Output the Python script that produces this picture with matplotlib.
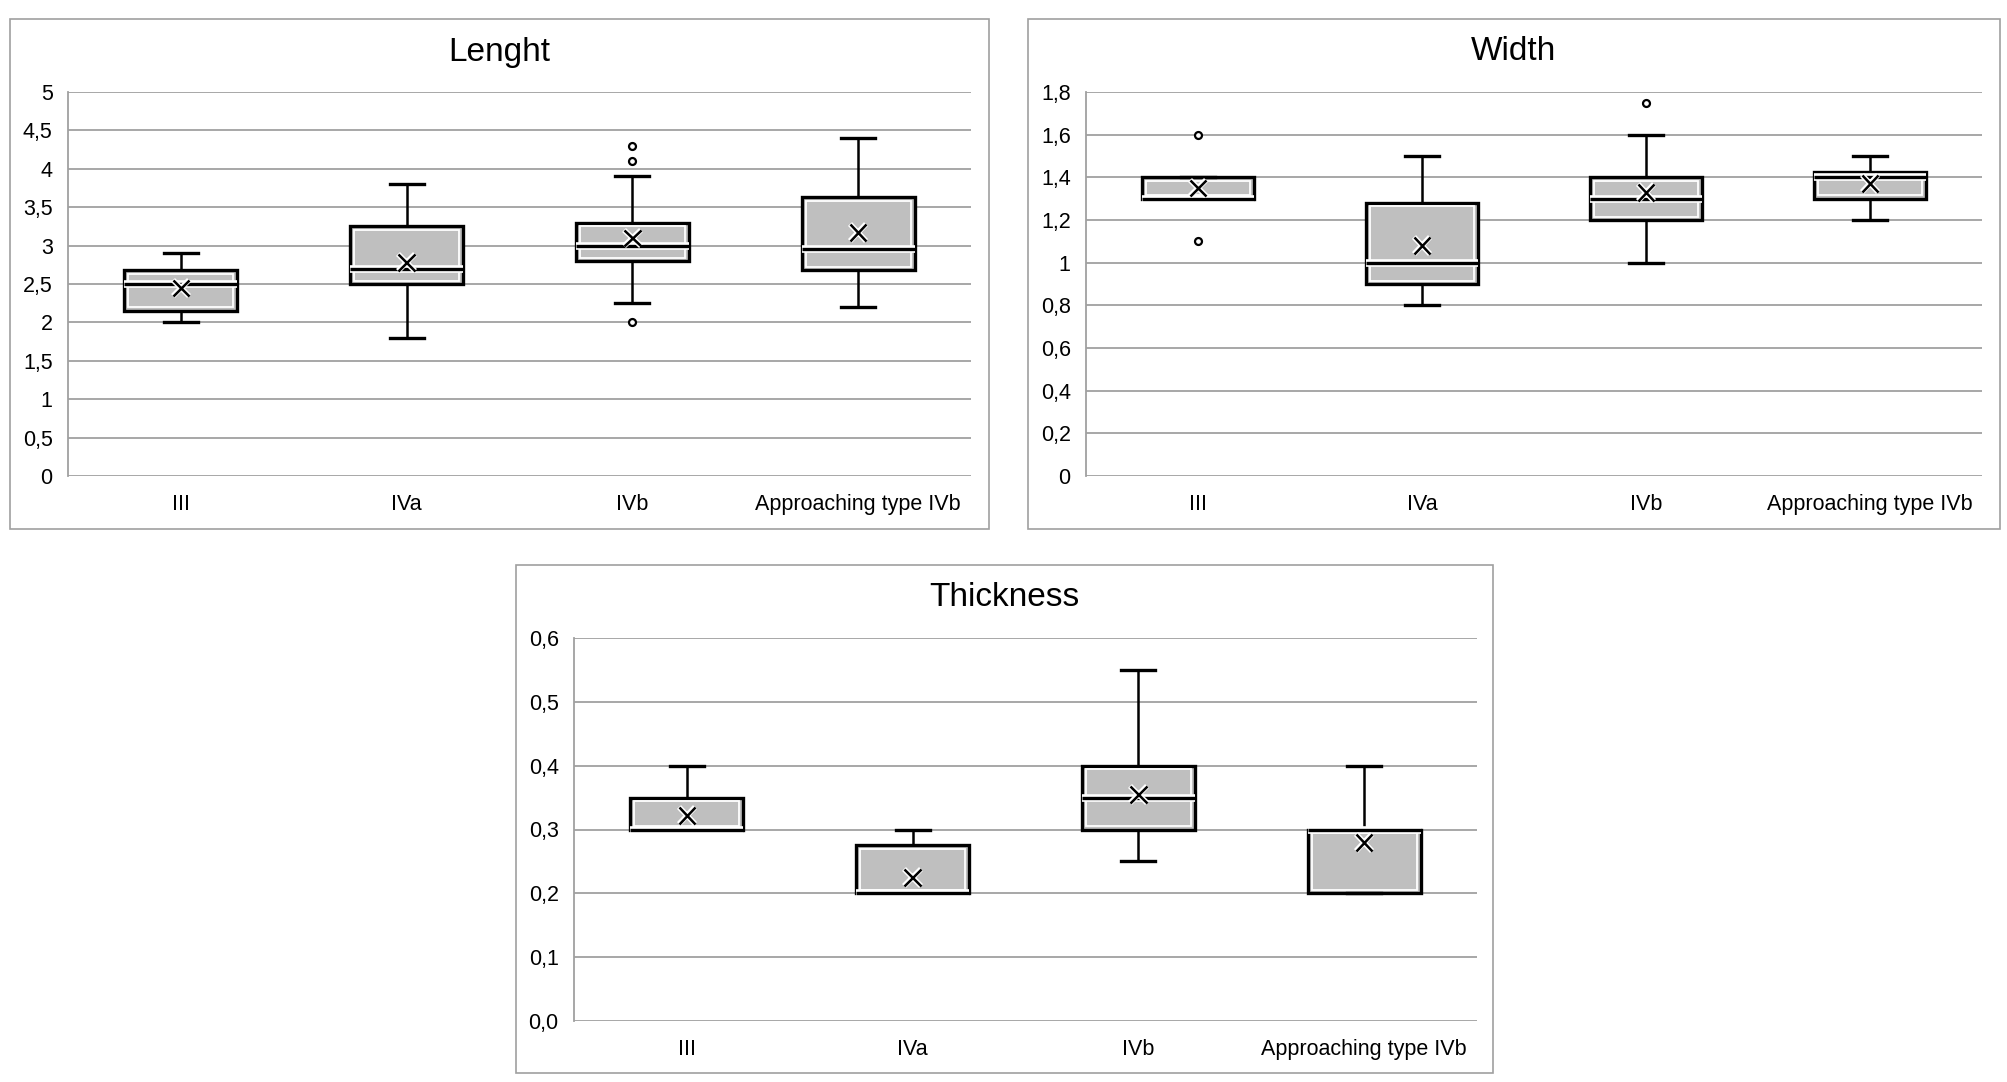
import matplotlib
matplotlib.use("Agg")
import matplotlib.pyplot as plt
import matplotlib.patches as patches
import matplotlib.patheffects as pe
from matplotlib.ticker import FuncFormatter, MultipleLocator

plt.rcParams['font.family'] = ['Liberation Sans', 'DejaVu Sans']

categories = ['III', 'IVa', 'IVb', 'Approaching type IVb']

# Lenght (whisker low, Q1, median, Q3, whisker high, mean, outliers)
len_low = [2.0, 1.8, 2.25, 2.2]
len_q1 = [2.15, 2.5, 2.8, 2.68]
len_med = [2.5, 2.7, 3.0, 2.95]
len_q3 = [2.68, 3.25, 3.3, 3.63]
len_high = [2.9, 3.8, 3.9, 4.4]
len_mean = [2.45, 2.78, 3.1, 3.17]
len_out = [[], [], [2.0, 4.1, 4.3], []]

# Width
wid_low = [1.3, 0.8, 1.0, 1.2]
wid_q1 = [1.3, 0.9, 1.2, 1.3]
wid_med = [1.3, 1.0, 1.3, 1.4]
wid_q3 = [1.4, 1.28, 1.4, 1.425]
wid_high = [1.4, 1.5, 1.6, 1.5]
wid_mean = [1.35, 1.08, 1.33, 1.37]
wid_out = [[1.1, 1.6], [], [1.75], []]

# Thickness
thk_low = [0.3, 0.2, 0.25, 0.2]
thk_q1 = [0.3, 0.2, 0.3, 0.2]
thk_med = [0.3, 0.2, 0.35, 0.3]
thk_q3 = [0.35, 0.275, 0.4, 0.3]
thk_high = [0.4, 0.3, 0.55, 0.4]
thk_mean = [0.322, 0.225, 0.355, 0.28]
thk_out = [[], [], [], []]

W, H = 2008, 1082
fig = plt.figure(figsize=(W / 100, H / 100), dpi=100)

GRID = '#a0a0a0'
BOXGRAY = '#bfbfbf'


def px_axes(x0, y0, x1, y1):
    return fig.add_axes([x0 / W, 1 - y1 / H, (x1 - x0) / W, (y1 - y0) / H])


def panel_border(x0, y0, x1, y1):
    fig.patches.append(patches.Rectangle((x0 / W, 1 - y1 / H), (x1 - x0) / W, (y1 - y0) / H,
                                         transform=fig.transFigure, fill=False,
                                         edgecolor=GRID, linewidth=1.2))


def draw_panel(ax, title, title_xy, lo, q1, med, q3, hi, mean, outs, ymax, step, fmt):
    stats = []
    inner = []
    d = ymax * 0.009
    for i in range(len(categories)):
        stats.append(dict(whislo=lo[i], q1=q1[i], med=med[i], q3=q3[i], whishi=hi[i],
                          mean=mean[i], fliers=outs[i]))
        inner.append(dict(whislo=q1[i] + d, q1=q1[i] + d, med=q1[i] + d, q3=q3[i] - d,
                          whishi=q3[i] - d, fliers=[]))
    pos = range(1, len(categories) + 1)
    ax.bxp(stats, positions=pos, widths=0.5, capwidths=0.15, patch_artist=True,
           showmeans=True,
           boxprops=dict(facecolor=BOXGRAY, edgecolor='black', linewidth=2.4),
           whiskerprops=dict(color='black', linewidth=1.8),
           capprops=dict(color='black', linewidth=2.4),
           medianprops=dict(color='black', linewidth=2.4,
                            path_effects=[pe.withStroke(linewidth=5.5, foreground='white')]),
           meanprops=dict(marker='x', markersize=12, markeredgecolor='black',
                          markeredgewidth=1.8,
                          path_effects=[pe.withStroke(linewidth=4, foreground='white')]),
           flierprops=dict(marker='o', markersize=5, markerfacecolor='white',
                           markeredgecolor='black', markeredgewidth=1.6))
    # white inner outline of the boxes
    ax.bxp(inner, positions=pos, widths=0.465, patch_artist=True, showcaps=False,
           boxprops=dict(facecolor='none', edgecolor='white', linewidth=1.3),
           whiskerprops=dict(linewidth=0), medianprops=dict(linewidth=0),
           showfliers=False)

    ax.set_xlim(0.5, len(categories) + 0.5)
    ax.set_ylim(0, ymax)
    ax.yaxis.set_major_locator(MultipleLocator(step))
    ax.yaxis.set_major_formatter(FuncFormatter(fmt))
    ax.set_xticks(list(pos))
    ax.set_xticklabels(categories)
    ax.tick_params(axis='both', length=0, labelsize=15.5, colors='black')
    ax.tick_params(axis='y', pad=11)
    ax.tick_params(axis='x', pad=13)
    ax.grid(axis='y', color=GRID, linewidth=1.3)
    ax.set_axisbelow(True)
    for s in ['top', 'right', 'bottom']:
        ax.spines[s].set_visible(False)
    ax.spines['left'].set_color(GRID)
    ax.spines['left'].set_linewidth(1.3)
    fig.text(title_xy[0] / W, 1 - title_xy[1] / H, title, ha='center', va='center',
             fontsize=24)


def fmt_plain(v, p):
    s = ('%.1f' % v).rstrip('0').rstrip('.')
    return s.replace('.', ',')


def fmt_one(v, p):
    return ('%.1f' % v).replace('.', ',')


panel_border(10, 19, 989, 529)
panel_border(1028, 19, 2000, 529)
panel_border(516, 565, 1493, 1073)

ax1 = px_axes(68, 92, 971, 476)
draw_panel(ax1, 'Lenght', (499, 52), len_low, len_q1, len_med, len_q3, len_high,
           len_mean, len_out, 5, 0.5, fmt_plain)

ax2 = px_axes(1086, 92, 1982, 476)
draw_panel(ax2, 'Width', (1513, 52), wid_low, wid_q1, wid_med, wid_q3, wid_high,
           wid_mean, wid_out, 1.8, 0.2, fmt_plain)

ax3 = px_axes(574, 638, 1477, 1021)
draw_panel(ax3, 'Thickness', (1004, 598), thk_low, thk_q1, thk_med, thk_q3, thk_high,
           thk_mean, thk_out, 0.6, 0.1, fmt_one)

fig.savefig('out.png', dpi=100, facecolor='white')
